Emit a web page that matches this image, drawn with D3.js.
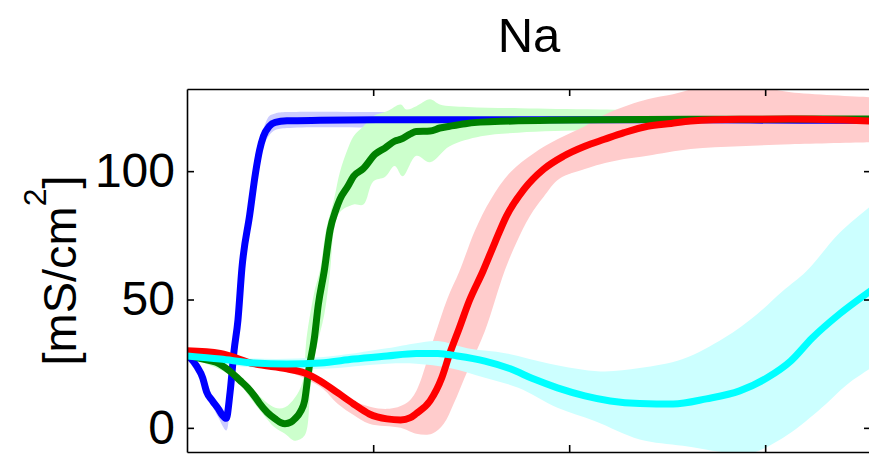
<!DOCTYPE html>
<html>
<head>
<meta charset="utf-8">
<script src="https://cdn.jsdelivr.net/npm/d3@7"></script>
<style>
  body { margin: 0; background: #fff; }
  text { font-family: "Liberation Sans", Arial, sans-serif; fill: #000; }
</style>
</head>
<body>
<script>
// Axis ticks
const xTicks = [10, 20, 30];
const yTicks = [0, 50, 100];

// Blue series (mean and shaded band)
const blueT = [0.5, 1.0, 1.3, 1.5, 1.8, 2.1, 2.3, 2.5, 2.7, 2.9, 3.1, 3.3, 3.7, 4.0, 4.2, 4.4, 4.7, 5.0, 5.6, 7.3, 11.4, 16.5, 21.6, 26.7, 31.8, 35.4];
const blueMean = [28.5, 24, 19.5, 14, 10.5, 7.4, 5, 3.7, 14, 30, 42, 62, 83, 99.5, 108, 113.6, 117.5, 119, 119.6, 119.8, 120, 120, 120, 120, 119.8, 119.8];
const blueHiT = [0.5, 1.3, 1.8, 2.1, 2.5, 2.7, 3.1, 3.3, 3.7, 4.0, 4.2, 4.4, 4.7, 5.0, 5.6, 11.4, 21.6, 35.4];
const blueHi = [30, 21.5, 12.5, 9.5, 6.5, 17, 46, 65, 86, 103, 111, 116.5, 121.5, 122.5, 123, 123, 122.5, 122.5];
const blueLoT = [0.5, 1.3, 1.8, 2.1, 2.5, 2.7, 3.1, 3.3, 3.7, 4.0, 4.2, 4.4, 4.7, 5.0, 5.6, 11.4, 21.6, 35.4];
const blueLo = [27, 17.5, 8.5, 4, -1, 10, 40, 58, 79, 95, 104, 110, 114, 116, 116.8, 117, 117, 117];

// Green series
const greenT = [0.5, 1.2, 2.0, 2.7, 3.2, 3.6, 4.0, 4.2, 4.6, 5.0, 5.3, 5.5, 5.8, 6.0, 6.3, 6.5, 6.7, 7.0, 7.2, 7.5, 7.8, 8.1, 8.3, 8.7, 9.0, 9.5, 10.1, 10.6, 11.1, 11.4, 11.9, 12.2, 12.9, 13.4, 13.9, 14.7, 15.3, 16.5, 17.4, 19.0, 21.6, 26.7, 31.8, 35.4];
const greenMean = [28.5, 27, 25.5, 22, 18.5, 15.6, 11.8, 9.6, 6, 3.5, 2, 1.6, 2.2, 3.5, 6.5, 10.5, 22, 35, 48, 61, 77, 85, 89, 94, 98, 101, 106.6, 109, 111.7, 112.4, 114.5, 115.4, 115.6, 116.8, 117.5, 118.5, 119, 119.4, 119.6, 119.8, 120, 120.2, 120.3, 120.3];
const greenHiT = [0.5, 2.7, 3.7, 5.0, 5.5, 6.0, 6.4, 6.6, 7.0, 7.3, 7.6, 8.0, 8.3, 8.7, 9.0, 9.5, 10.0, 10.7, 11.4, 11.7, 12.2, 12.9, 13.4, 14.8, 17.5, 21.6, 35.4];
const greenHi = [29.5, 23.5, 16, 7.8, 8, 11.7, 18, 35, 53, 62, 77.4, 89, 99.6, 108.6, 113.6, 117.5, 121.4, 123.3, 126, 124, 125.3, 128, 126, 125, 124.5, 124, 123];
const greenLoT = [0.5, 2.7, 4.2, 5.0, 5.5, 6.0, 6.5, 6.8, 7.1, 7.5, 7.8, 8.0, 8.3, 9.0, 9.5, 10.0, 10.6, 11.1, 11.5, 12.2, 12.9, 13.9, 15.5, 17.4, 21.6, 35.4];
const greenLo = [27.5, 20.5, 7, 0, -2.3, -5, -3, 15.6, 31, 44, 61, 77, 84, 87, 87, 96, 97.7, 102, 98, 106, 103.5, 109.7, 113.6, 115, 116, 117.5];

// Red series
const redT = [0.5, 2.2, 3.9, 5.6, 6.5, 7.3, 8.2, 9.0, 9.8, 10.7, 11.4, 11.9, 12.2, 12.9, 13.5, 13.9, 14.4, 14.9, 15.6, 16.2, 16.8, 17.7, 18.7, 19.7, 20.8, 21.8, 22.8, 24.0, 25.2, 26.2, 28.7, 31.3, 35.4];
const redMean = [30, 29, 25, 23, 21.4, 18.3, 13.6, 9.3, 5.4, 3.5, 3.1, 4, 5.6, 10.5, 19.5, 28.8, 39, 49.4, 61, 72, 82.5, 93, 100.8, 105.8, 109.7, 112.4, 115, 117.5, 118.6, 119.5, 120.2, 120.3, 119.5];
const redHiT = [0.5, 3.9, 5.6, 7.3, 9.0, 10.7, 11.7, 12.2, 13.1, 13.8, 14.4, 15.2, 16.0, 17.0, 18.2, 19.4, 20.8, 22.1, 24.0, 25.3, 27.0, 29.6, 31.3, 35.4];
const redHi = [31, 26, 24, 19.5, 10.5, 7.4, 9.7, 14.4, 35, 50.6, 61, 77, 89, 99.6, 107, 112.4, 117.5, 123, 128, 130, 133, 133, 130.7, 128.8];
const redLoT = [0.5, 3.9, 5.6, 7.3, 8.2, 9.0, 9.8, 11.4, 12.2, 13.0, 13.6, 14.1, 14.8, 15.7, 16.7, 17.3, 18.0, 18.7, 19.5, 20.8, 21.6, 22.8, 24.0, 26.2, 28.7, 31.3, 35.4];
const redLo = [29, 24, 22, 16, 9.3, 5, 1.6, 0, -2.3, -2.3, 1.6, 9.3, 22, 37.7, 61, 72, 82.5, 90, 97, 100.8, 102.7, 104.7, 106, 108.6, 109.7, 110.5, 111.3];

// Cyan series
const cyanT = [0.5, 2.2, 3.9, 5.6, 7.3, 9.0, 10.7, 12.2, 13.3, 14.3, 15.7, 17.0, 18.2, 19.4, 20.8, 22.1, 23.6, 25.3, 27.0, 28.7, 30.1, 31.3, 32.4, 33.8, 35.4];
const cyanMean = [28, 26.8, 25.3, 24.9, 25.3, 26.8, 28, 29, 29, 28, 26, 23, 19, 15.6, 12.5, 10.5, 9.5, 9.3, 11.3, 14.4, 19.5, 26, 35, 44.4, 53.5];
const cyanHiT = [0.5, 3.9, 7.3, 10.7, 12.2, 13.3, 14.8, 16.8, 19.0, 21.6, 23.6, 25.8, 27.9, 29.6, 30.9, 32.1, 33.8, 35.4];
const cyanHi = [29.5, 27, 27.5, 31, 33, 33.8, 31, 29, 25, 22, 23.3, 26.8, 35, 44.4, 53.3, 61, 76, 86.5];
const cyanLoT = [0.5, 3.9, 7.3, 10.7, 12.2, 13.9, 15.7, 17.4, 19.4, 21.3, 23.6, 25.8, 27.9, 29.2, 30.9, 32.7, 34.2, 35.4];
const cyanLo = [26.5, 23.5, 23, 25, 25, 23.3, 19.5, 15.6, 7.8, 2.7, -4.5, -7, -9.5, -10, -3.9, 6.6, 17, 23.3];

const series = [
  { t: blueT, mean: blueMean, hiT: blueHiT, hi: blueHi, loT: blueLoT, lo: blueLo, line: "#0000ff", band: "#ccccff" },
  { t: greenT, mean: greenMean, hiT: greenHiT, hi: greenHi, loT: greenLoT, lo: greenLo, line: "#008000", band: "#ccffcc" },
  { t: redT, mean: redMean, hiT: redHiT, hi: redHi, loT: redLoT, lo: redLo, line: "#ff0000", band: "#ffcccc" },
  { t: cyanT, mean: cyanMean, hiT: cyanHiT, hi: cyanHi, loT: cyanLoT, lo: cyanLo, line: "#00ffff", band: "#ccffff" }
];

const W = 869, H = 458;
const m = { left: 187, right: 871, top: 89, bottom: 452 };

const svg = d3.select("body").append("svg")
  .attr("width", W)
  .attr("height", H);

const x = d3.scaleLinear().domain([0.5, 35.4]).range([m.left, m.right]);
const y = d3.scaleLinear().domain([-9.4, 132]).range([m.bottom, m.top]);

svg.append("clipPath").attr("id", "plot")
  .append("rect")
  .attr("x", m.left).attr("y", m.top)
  .attr("width", m.right - m.left).attr("height", m.bottom - m.top);

const plot = svg.append("g").attr("clip-path", "url(#plot)");

const pts = (ts, vs) => ts.map((t, i) => [x(t), y(vs[i])]);
const edge = d3.line().curve(d3.curveCatmullRom.alpha(0.5));
const meanLine = d3.line().curve(d3.curveMonotoneX);

// shaded bands first
series.forEach(s => {
  const upper = pts(s.hiT, s.hi);
  const lower = pts(s.loT, s.lo).reverse();
  plot.append("path")
    .attr("d", edge(upper) + edge(lower).replace(/^M/, "L") + "Z")
    .attr("fill", s.band)
    .attr("stroke", "none");
});

// mean lines on top
series.forEach(s => {
  plot.append("path")
    .attr("d", meanLine(pts(s.t, s.mean)))
    .attr("fill", "none")
    .attr("stroke", s.line)
    .attr("stroke-width", 7)
    .attr("stroke-linejoin", "round");
});

// Axes (box with inward ticks)
const axisStyle = g => {
  g.selectAll(".domain").attr("stroke", "#000").attr("stroke-width", 1.6);
  g.selectAll(".tick line").attr("stroke", "#000").attr("stroke-width", 1.6);
};

svg.append("g")
  .attr("transform", `translate(0,${m.bottom})`)
  .call(d3.axisBottom(x).tickValues(xTicks).tickSize(-7).tickSizeOuter(0).tickFormat(""))
  .call(axisStyle);

svg.append("g")
  .attr("transform", `translate(0,${m.top})`)
  .call(d3.axisTop(x).tickValues(xTicks).tickSize(-7).tickSizeOuter(0).tickFormat(""))
  .call(axisStyle);

svg.append("g")
  .attr("transform", `translate(${m.right},0)`)
  .call(d3.axisRight(y).tickValues(yTicks).tickSize(-7).tickSizeOuter(0).tickFormat(""))
  .call(axisStyle);

const yAxis = svg.append("g")
  .attr("transform", `translate(${m.left},0)`)
  .call(d3.axisLeft(y).tickValues(yTicks).tickSize(-7).tickSizeOuter(0).tickPadding(12))
  .call(axisStyle);

yAxis.selectAll(".tick text")
  .style("font-family", "'Liberation Sans', Arial, sans-serif")
  .style("font-size", "48px")
  .attr("fill", "#000");

// Title
svg.append("text")
  .attr("x", (m.left + m.right) / 2)
  .attr("y", 52)
  .attr("text-anchor", "middle")
  .style("font-size", "49px")
  .text("Na");

// Y label
const yLabel = svg.append("text")
  .attr("transform", `translate(76,${(m.top + m.bottom) / 2}) rotate(-90)`)
  .attr("text-anchor", "middle")
  .style("font-size", "47px");
yLabel.append("tspan").text("[mS/cm");
yLabel.append("tspan").attr("dy", -30).style("font-size", "32px").text("2");
yLabel.append("tspan").attr("dy", 30).text("]");
</script>
</body>
</html>
